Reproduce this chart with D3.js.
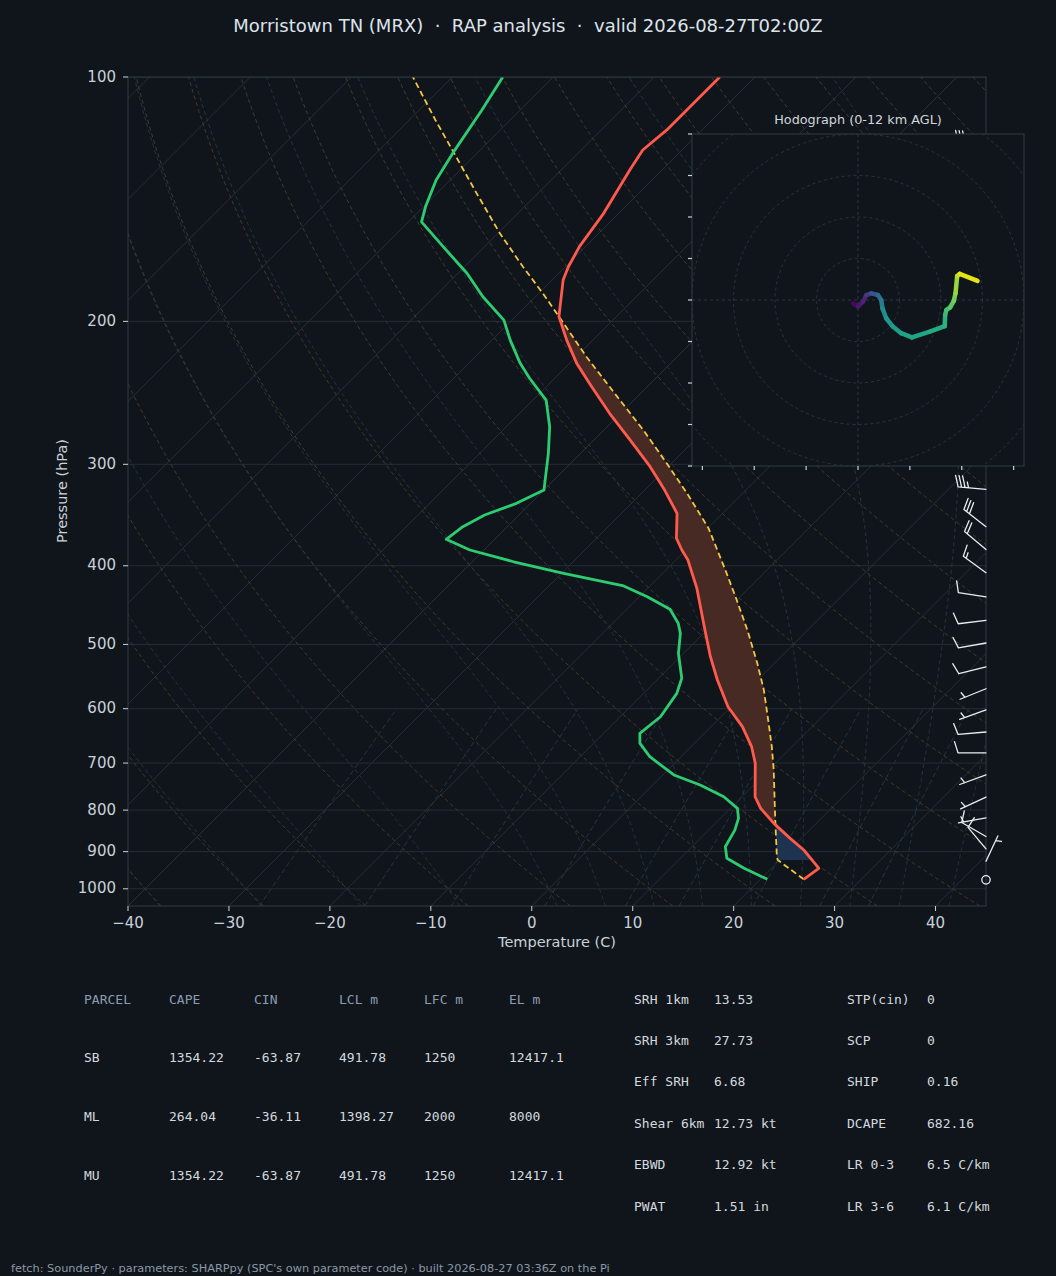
<!DOCTYPE html>
<html><head><meta charset="utf-8">
<script src="https://cdn.jsdelivr.net/npm/d3@7"></script>
<style>
html,body{margin:0;padding:0;background:#10151c;}
svg{display:block;}
text{font-family:"DejaVu Sans",sans-serif;white-space:pre;}
.mono{font-family:"DejaVu Sans Mono",monospace;}
</style></head><body>
<svg id="c" width="1056" height="1276"></svg>
<script>
// ---------------- DATA ----------------
const titleText = "Morristown TN (MRX)  \u00b7  RAP analysis  \u00b7  valid 2026-08-27T02:00Z";
const footerText = "fetch: SounderPy \u00b7 parameters: SHARPpy (SPC's own parameter code) \u00b7 built 2026-08-27 03:36Z on the Pi";
const tempTicks = [-40,-30,-20,-10,0,10,20,30,40];
const pressTicks = [100,200,300,400,500,600,700,800,900,1000];

// environment temperature (hPa, degC)
const envP = [973.4,943.5,921.5,895.8,866.8,830.6,795.9,770.2,700.4,668.3,631.4,596.7,553.1,517.7,479.8,426.6,393.6,382.5,370.0,344.8,321.2,302.0,280.1,259.6,239.5,225.3,210.9,197.3,177.9,171.3,161.8,147.2,130.2,123.0,116.2,100.0];
const envT = [24.3,24.7,23.2,21.4,18.9,15.8,13.0,11.3,8.0,6.0,3.1,-0.3,-4.0,-7.0,-10.2,-15.1,-18.8,-20.4,-22.1,-24.5,-28.3,-31.8,-36.4,-41.1,-45.8,-49.3,-52.6,-55.7,-58.9,-59.7,-60.6,-61.5,-63.2,-63.9,-63.5,-63.5];

// dewpoint
const dewP = [973.4,943.5,917.1,887.4,846.7,819.0,795.9,770.2,745.0,724.1,687.5,661.9,643.4,613.8,574.4,550.4,512.8,484.4,470.9,452.6,436.7,423.6,408.7,395.5,382.5,371.1,358.1,346.4,335.1,322.7,290.8,269.7,250.0,235.0,225.3,210.9,199.3,186.5,174.5,161.8,150.8,144.5,133.9,124.2,109.8,100.0];
const dewT = [20.7,17.3,14.6,13.3,12.6,11.8,10.7,8.2,4.7,1.1,-3.1,-5.4,-6.4,-6.0,-6.7,-7.7,-10.5,-12.3,-13.5,-15.7,-19.2,-22.6,-29.8,-35.9,-41.4,-44.8,-44.4,-43.4,-41.4,-40.0,-43.2,-45.7,-48.7,-52.5,-54.9,-58.2,-60.8,-65.2,-69.1,-74.1,-78.7,-79.8,-81.4,-82.4,-83.8,-85.0];

// surface-based parcel trace
const parcelP = [973.4,921.5,913.0,838.7,784.8,714.0,668.3,619.6,569.1,527.5,479.8,440.9,404.9,359.7,325.7,300.6,272.2,247.6,221.1,198.3,184.7,171.3,155.8,139.0,123.6,113.0,100.0];
const parcelT = [24.3,19.8,19.4,16.3,13.9,10.5,8.0,5.0,1.6,-1.7,-6.0,-10.0,-14.1,-19.9,-25.5,-30.2,-36.1,-42.0,-49.0,-55.4,-59.6,-64.2,-69.8,-76.1,-82.5,-87.4,-93.9];
const lclP = 921.5, lfcP = 825, elP = 198;

// wind barbs (hPa, direction from deg, speed kt)
const barbP   = [121,150,175,200,225,250,275,300,322,358,382,408,437,467,498,533,567,602,641,680,724,771,818,862,893,925,975];
const barbDir = [275,270,265,265,270,275,280,280,275,308,310,306,279,263,260,256,248,250,265,270,250,245,260,300,320,25,0];
const barbSpd = [35,35,30,30,30,30,30,35,35,30,20,15,10,10,10,10,5,5,10,10,5,5,5,10,10,5,0];

// hodograph (kt) coloured by height AGL (km)
const hodoU = [-1.2,0.0,1.2,2.0,3.2,4.8,5.6,5.9,6.8,8.4,10.4,13.0,17.3,20.9,21.0,21.3,22.2,23.1,23.5,23.9,24.5,28.8];
const hodoV = [-0.8,-1.6,-0.4,1.2,1.6,1.2,0.0,-2.0,-4.4,-6.4,-8.0,-9.0,-7.6,-6.3,-3.6,-2.4,-1.8,-0.2,1.6,5.8,6.3,4.6];
const hodoH = [0.0,0.5,1.0,1.5,2.5,3.5,4.5,5.5,6.2,6.5,6.8,7.0,7.2,7.5,7.9,8.3,8.7,9.2,9.7,10.6,11.0,12.0];
const hodoRings = [10,20,30,40,50];
const hodoXTicks = [-37.5,-25,-12.5,0,12.5,25,37.5];
const hodoYTicks = [-40,-30,-20,-10,0,10,20,30,40];

// parameter tables
const parcelHeader = ["PARCEL","CAPE","CIN","LCL m","LFC m","EL m"];
const parcelRows = [
  ["SB","1354.22","-63.87","491.78","1250","12417.1"],
  ["ML","264.04","-36.11","1398.27","2000","8000"],
  ["MU","1354.22","-63.87","491.78","1250","12417.1"]
];
const paramLabelsL = ["SRH 1km","SRH 3km","Eff SRH","Shear 6km","EBWD","PWAT"];
const paramValuesL = ["13.53","27.73","6.68","12.73 kt","12.92 kt","1.51 in"];
const paramLabelsR = ["STP(cin)","SCP","SHIP","DCAPE","LR 0-3","LR 3-6"];
const paramValuesR = ["0","0","0.16","682.16","6.5 C/km","6.1 C/km"];

// background line families
const dryT0 = d3.range(-40, 250, 10);
const moistT0 = [-40,-30,-20,-10,0,5,10,15,20,25,30,35,40,45];
const mixRatios = [0.0004,0.001,0.002,0.004,0.007,0.01,0.016,0.024,0.032];

// ---------------- DRAW ----------------
const BG = "#10151c", SPINE = "#2f3a47", TXT = "#c9d1d9";
const svg = d3.select("#c");
svg.append("rect").attr("width",1056).attr("height",1276).attr("fill",BG);

const x = d3.scaleLinear().domain([-40,45]).range([128,986]);
const y = d3.scaleLog().domain([1050,100]).range([906,77]);
const yB = y(1050);
const sx = (T,p) => x(T) + (yB - y(p));
const line = d3.line().x(d=>sx(d[1],d[0])).y(d=>y(d[0]));

const defs = svg.append("defs");
defs.append("clipPath").attr("id","pc").append("rect")
  .attr("x",128).attr("y",77).attr("width",858).attr("height",829);
const gp = svg.append("g").attr("clip-path","url(#pc)");

// pressure grid
gp.selectAll(null).data(pressTicks).join("line")
  .attr("x1",128).attr("x2",986).attr("y1",d=>y(d)).attr("y2",d=>y(d))
  .attr("stroke","#252d37").attr("stroke-width",1);
// isotherms
gp.selectAll(null).data(d3.range(-130,50,10)).join("line")
  .attr("x1",d=>sx(d,1050)).attr("y1",y(1050)).attr("x2",d=>sx(d,100)).attr("y2",y(100))
  .attr("stroke","#262e38").attr("stroke-width",1);

const pLevels = d3.range(1050, 99, -5);
// dry adiabats
dryT0.forEach(t0=>{
  const pts = pLevels.map(p=>[p,(t0+273.15)*Math.pow(p/1000,0.2857)-273.15]);
  gp.append("path").attr("d",line(pts)).attr("fill","none")
    .attr("stroke","#4a3d2b").attr("stroke-width",0.9).attr("stroke-dasharray","4,3");
});
// moist adiabats
const Rd=287.04749, Cp=1004.6662, Lv=2.50084e6, eps=0.622;
const es = Tk => 6.112*Math.exp(17.67*(Tk-273.15)/(Tk-29.65));
const dTdp = (p,Tk) => { const e=es(Tk); const rs=eps*e/(p-e);
  return (Rd*Tk + Lv*rs)/(Cp + Lv*Lv*rs*eps/(Rd*Tk*Tk))/p; };
function moistLine(t0){
  const out=[[1000,t0]];
  let T=t0+273.15, p=1000, h=-2;
  while(p>100){ const k1=dTdp(p,T),k2=dTdp(p+h/2,T+h/2*k1),k3=dTdp(p+h/2,T+h/2*k2),k4=dTdp(p+h,T+h*k3);
    T+=h/6*(k1+2*k2+2*k3+k4); p+=h; out.push([p,T-273.15]); }
  T=t0+273.15; p=1000; h=2; const low=[];
  while(p<1050){ const k1=dTdp(p,T),k2=dTdp(p+h/2,T+h/2*k1),k3=dTdp(p+h/2,T+h/2*k2),k4=dTdp(p+h,T+h*k3);
    T+=h/6*(k1+2*k2+2*k3+k4); p+=h; low.push([p,T-273.15]); }
  return low.reverse().concat(out);
}
moistT0.forEach(t0=>{
  gp.append("path").attr("d",line(moistLine(t0))).attr("fill","none")
    .attr("stroke","#263847").attr("stroke-width",0.9).attr("stroke-dasharray","4,3");
});
// mixing ratio lines
mixRatios.forEach(w=>{
  const pts = d3.range(1050,599,-10).map(p=>{const e=p*w/(eps+w); const l=Math.log(e/6.112);
    return [p, 243.5*l/(17.67-l)];});
  gp.append("path").attr("d",line(pts)).attr("fill","none")
    .attr("stroke","#26394a").attr("stroke-width",0.9).attr("stroke-dasharray","5,3");
});

// interpolation helper in log-p
function interp(P,T,p){
  for(let i=0;i<P.length-1;i++){
    if((P[i]>=p && P[i+1]<=p)){ const f=(Math.log(p)-Math.log(P[i]))/(Math.log(P[i+1])-Math.log(P[i])); return T[i]+f*(T[i+1]-T[i]); }
  }
  return T[T.length-1];
}
function shade(pBot,pTop,cape,color){
  const ps = d3.range(pBot, pTop, -1).concat([pTop]);
  const area = d3.area()
    .y(p=>y(p))
    .x0(p=>{const te=interp(envP,envT,p), tp=interp(parcelP,parcelT,p); return cape? sx(te,p) : sx(tp,p);})
    .x1(p=>{const te=interp(envP,envT,p), tp=interp(parcelP,parcelT,p); return sx(Math.max(te,tp),p);});
  gp.append("path").attr("d",area(ps)).attr("fill",color).attr("stroke","none");
}
shade(lfcP, elP, true, "#472a24");
shade(lclP, lfcP, false, "#1d3350");

const zip = (P,T)=>P.map((p,i)=>[p,T[i]]);
gp.append("path").attr("d",line(zip(parcelP,parcelT))).attr("fill","none")
  .attr("stroke","#f4c542").attr("stroke-width",1.8).attr("stroke-dasharray","6,3.5");
gp.append("path").attr("d",line(zip(dewP,dewT))).attr("fill","none")
  .attr("stroke","#2ecc71").attr("stroke-width",2.8).attr("stroke-linejoin","round");
gp.append("path").attr("d",line(zip(envP,envT))).attr("fill","none")
  .attr("stroke","#ff5a4c").attr("stroke-width",2.8).attr("stroke-linejoin","round");

// spines
svg.append("rect").attr("x",128).attr("y",77).attr("width",858).attr("height",829)
  .attr("fill","none").attr("stroke",SPINE).attr("stroke-width",1);
// ticks
const ax = svg.append("g");
tempTicks.forEach(t=>{
  ax.append("line").attr("x1",x(t)).attr("x2",x(t)).attr("y1",906).attr("y2",911).attr("stroke",TXT).attr("stroke-width",1);
  ax.append("text").attr("x",x(t)).attr("y",923).attr("text-anchor","middle").attr("dominant-baseline","middle")
    .attr("font-size",15).attr("fill",TXT).text(t<0?"\u2212"+Math.abs(t):String(t));
});
pressTicks.forEach(p=>{
  ax.append("line").attr("x1",123).attr("x2",128).attr("y1",y(p)).attr("y2",y(p)).attr("stroke",TXT).attr("stroke-width",1);
  ax.append("text").attr("x",116).attr("y",y(p)).attr("text-anchor","end").attr("dominant-baseline","middle")
    .attr("font-size",15).attr("fill",TXT).text(String(p));
});
ax.append("text").attr("x",557).attr("y",943).attr("text-anchor","middle").attr("dominant-baseline","middle")
  .attr("font-size",14.5).attr("fill",TXT).text("Temperature (C)");
ax.append("text").attr("transform","translate(63,491) rotate(-90)").attr("text-anchor","middle").attr("dominant-baseline","middle")
  .attr("font-size",14.5).attr("fill",TXT).text("Pressure (hPa)");

// wind barbs
const gb = svg.append("g");
function barb(bx,by,dir,spd){
  const L=28, spacing=L*0.125, fh=L*0.4, fw=L*0.25, empty=L*0.15;
  const mag = 5*Math.round(spd/5);
  if(mag===0){ gb.append("circle").attr("cx",bx).attr("cy",by).attr("r",empty).attr("fill","none").attr("stroke","#e8edf2").attr("stroke-width",1.3); return; }
  const r = dir*Math.PI/180, ux=Math.sin(r), uy=Math.cos(r), fx=uy, fy=-ux;
  const pt=(a,pp)=>[bx+ux*a+fx*pp, by-(uy*a+fy*pp)];
  const nf=Math.floor(mag/50), nb=Math.floor((mag%50)/10), half=(mag%10)>=5;
  let d = "M"+pt(0,0)+"L"+pt(L,0);
  let off=L;
  const polys=[];
  for(let i=0;i<nf;i++){ if(off!==L) off+=spacing/2; polys.push([pt(off,0),pt(off-fw/2,fh),pt(off-fw,0)]); off-=fw+spacing; }
  for(let i=0;i<nb;i++){ d+="M"+pt(off,0)+"L"+pt(off+fw/2,fh); off-=spacing; }
  if(half){ if(off===L) off-=1.5*spacing; d+="M"+pt(off,0)+"L"+pt(off+fw/4,fh/2); }
  gb.append("path").attr("d",d).attr("fill","none").attr("stroke","#e8edf2").attr("stroke-width",1.3).attr("stroke-linecap","round");
  polys.forEach(pg=>gb.append("path").attr("d","M"+pg.join("L")+"Z").attr("fill","#e8edf2"));
}
barbP.forEach((p,i)=>barb(986, y(p), barbDir[i], barbSpd[i]));

// hodograph inset
const hx = d3.scaleLinear().domain([-40,40]).range([692,1024]);
const hy = d3.scaleLinear().domain([-40,40]).range([466,134]);
const gh = svg.append("g");
gh.append("rect").attr("x",692).attr("y",134).attr("width",332).attr("height",332).attr("fill",BG);
defs.append("clipPath").attr("id","hc").append("rect").attr("x",692).attr("y",134).attr("width",332).attr("height",332);
const ghc = gh.append("g").attr("clip-path","url(#hc)");
hodoRings.forEach(r=>ghc.append("circle").attr("cx",hx(0)).attr("cy",hy(0)).attr("r",hx(r)-hx(0))
  .attr("fill","none").attr("stroke","#2b3643").attr("stroke-width",0.9).attr("stroke-dasharray","3,3"));
ghc.append("line").attr("x1",hx(0)).attr("x2",hx(0)).attr("y1",134).attr("y2",466).attr("stroke","#2b3643").attr("stroke-dasharray","3,3");
ghc.append("line").attr("x1",692).attr("x2",1024).attr("y1",hy(0)).attr("y2",hy(0)).attr("stroke","#2b3643").attr("stroke-dasharray","3,3");
for(let i=0;i<hodoU.length-1;i++){
  ghc.append("line").attr("x1",hx(hodoU[i])).attr("y1",hy(hodoV[i])).attr("x2",hx(hodoU[i+1])).attr("y2",hy(hodoV[i+1]))
    .attr("stroke",d3.interpolateViridis((hodoH[i]+hodoH[i+1])/2/12)).attr("stroke-width",4.5).attr("stroke-linecap","round");
}
gh.append("rect").attr("x",692).attr("y",134).attr("width",332).attr("height",332).attr("fill","none").attr("stroke",SPINE).attr("stroke-width",1);
hodoYTicks.forEach(v=>gh.append("line").attr("x1",688).attr("x2",692).attr("y1",hy(v)).attr("y2",hy(v)).attr("stroke",TXT).attr("stroke-width",1.2));
hodoXTicks.forEach(u=>gh.append("line").attr("x1",hx(u)).attr("x2",hx(u)).attr("y1",466).attr("y2",470).attr("stroke",TXT).attr("stroke-width",1.2));
gh.append("text").attr("x",858).attr("y",120).attr("text-anchor","middle").attr("dominant-baseline","middle")
  .attr("font-size",12.8).attr("fill","#d0d6dc").text("Hodograph (0-12 km AGL)");

// title
svg.append("text").attr("x",528).attr("y",27).attr("text-anchor","middle").attr("dominant-baseline","middle")
  .attr("font-size",18).attr("fill","#dde3ea").text(titleText);

// parcel table
const colX=[84,169,254,339,424,509], rowY=[1000,1058,1117,1176];
const gt = svg.append("g").attr("class","mono");
parcelHeader.forEach((h,j)=>gt.append("text").attr("class","mono").attr("x",colX[j]).attr("y",rowY[0]).attr("dominant-baseline","middle")
  .attr("font-size",13).attr("fill","#8b9cb1").text(h));
parcelRows.forEach((r,i)=>r.forEach((v,j)=>gt.append("text").attr("class","mono").attr("x",colX[j]).attr("y",rowY[i+1]).attr("dominant-baseline","middle")
  .attr("font-size",13).attr("fill","#d3d9df").text(v)));
// parameter table
paramLabelsL.forEach((l,i)=>{
  const yy=1000+i*41.45;
  [[634,l],[714,paramValuesL[i]],[847,paramLabelsR[i]],[927,paramValuesR[i]]].forEach(([xx,t])=>
    gt.append("text").attr("class","mono").attr("x",xx).attr("y",yy).attr("dominant-baseline","middle")
      .attr("font-size",13).attr("fill","#d3d9df").text(t));
});
// footer
svg.append("text").attr("x",11).attr("y",1269).attr("dominant-baseline","middle")
  .attr("font-size",11.3).attr("fill","#8b98a5").text(footerText);
</script></body></html>
